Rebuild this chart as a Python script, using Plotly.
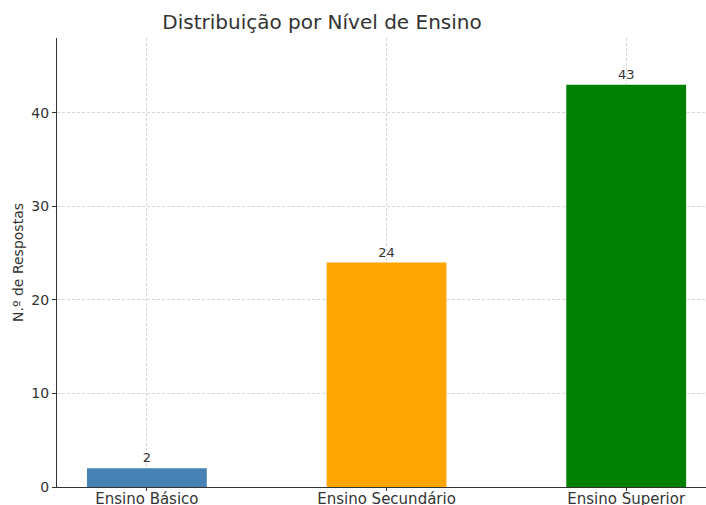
import plotly.graph_objects as go

categories = ["Ensino Básico", "Ensino Secundário", "Ensino Superior"]
values = [2, 24, 43]
colors = ["#4682B4", "#FFA500", "#008000"]
title_text = "Distribuição por Nível de Ensino"
y_label = "N.º de Respostas"

x_pos = list(range(len(categories)))

fig = go.Figure(go.Bar(
    x=x_pos, y=values, width=0.5,
    marker=dict(color=colors, line=dict(width=0)),
    text=[str(v) for v in values], textposition="outside",
    textfont=dict(family="DejaVu Sans", size=13, color="#333333"),
    cliponaxis=False,
))

fig.update_layout(
    width=706, height=505,
    margin=dict(l=57, r=0, t=38, b=18, autoexpand=False),
    plot_bgcolor="white", paper_bgcolor="white",
    font=dict(family="DejaVu Sans", color="#333333"),
    showlegend=False,
    title=dict(text=title_text, x=322/706, xanchor="center", y=1-22/505, yanchor="middle",
               font=dict(family="DejaVu Sans", size=20, color="#333333")),
    xaxis=dict(
        range=[-0.375, 2.333], tickmode="array", tickvals=x_pos, ticktext=categories,
        showgrid=True, gridcolor="#d6d6d6", griddash="3px,2px", gridwidth=0.8,
        ticks="outside", ticklen=3, tickcolor="#333333",
        showline=True, linecolor="#333333", linewidth=1.2,
        tickfont=dict(size=15, color="#333333"), zeroline=False, automargin=False,
        ticklabelstandoff=-5,
    ),
    yaxis=dict(
        range=[0, 48], tickvals=[0, 10, 20, 30, 40],
        showgrid=True, gridcolor="#d6d6d6", griddash="3px,2px", gridwidth=0.8,
        ticks="outside", ticklen=4, tickcolor="#333333",
        showline=True, linecolor="#333333", linewidth=1.2,
        tickfont=dict(size=14, color="#333333"), zeroline=False, automargin=False,
        title=dict(text=y_label, font=dict(size=14, color="#333333"), standoff=4),
    ),
)

fig.write_html("out.html", config={"displayModeBar": False},
               post_script="document.body.style.margin='0';document.body.style.overflow='hidden';")
